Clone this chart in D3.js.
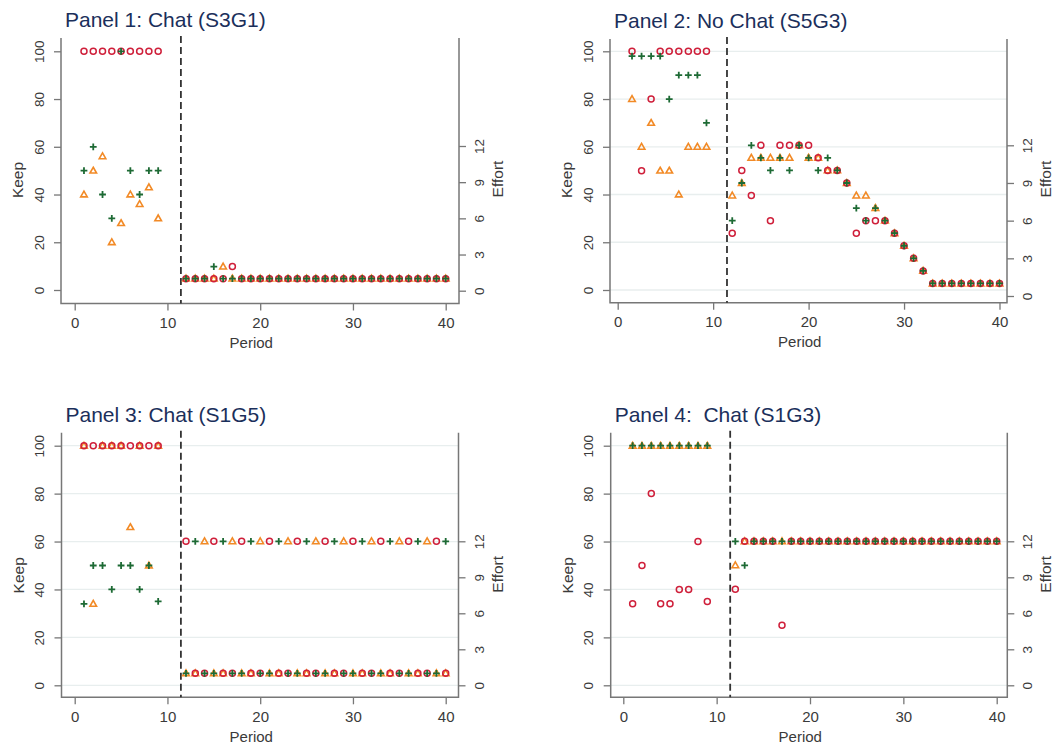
<!DOCTYPE html>
<html>
<head>
<meta charset="utf-8">
<script src="https://cdn.jsdelivr.net/npm/d3@7"></script>
<style>
  body { margin: 0; background: #fff; }
  svg { display: block; }
  text { font-family: "Liberation Sans", Arial, sans-serif; }
</style>
</head>
<body>
<svg id="chart" width="1058" height="752"></svg>
<script>
// periods
const periodsEarly = [1, 2, 3, 4, 5, 6, 7, 8, 9];
const periodsEarlyP2 = [1.5, 2.5, 3.5, 4.45, 5.4, 6.4, 7.4, 8.35, 9.3];
const periodsLate = [12, 13, 14, 15, 16, 17, 18, 19, 20, 21, 22, 23, 24, 25, 26, 27, 28, 29, 30, 31, 32, 33, 34, 35, 36, 37, 38, 39, 40];
const breakPeriod = 11.45;

const titles = ["Panel 1: Chat (S3G1)", "Panel 2: No Chat (S5G3)", "Panel 3: Chat (S1G5)", "Panel 4:  Chat (S1G3)"];
const keepTicks = [0, 20, 40, 60, 80, 100];
const effortTicks = [0, 3, 6, 9, 12];
const periodTicks = [0, 10, 20, 30, 40];

// panel 1
const p1KeepCircle = [100, 100, 100, 100, 100, 100, 100, 100, 100];
const p1KeepPlus = [50, 60, 40, 30, 100, 50, 40, 50, 50];
const p1KeepTri = [40, 50, 56, 20, 28, 40, 36, 43, 30];
const p1EffCircle = [1, 1, 1, 1, 1, 2, 1, 1, 1, 1, 1, 1, 1, 1, 1, 1, 1, 1, 1, 1, 1, 1, 1, 1, 1, 1, 1, 1, 1];
const p1EffPlus = [1, 1, 1, 2, 1, 1, 1, 1, 1, 1, 1, 1, 1, 1, 1, 1, 1, 1, 1, 1, 1, 1, 1, 1, 1, 1, 1, 1, 1];
const p1EffTri = [1, 1, 1, 1, 2, 1, 1, 1, 1, 1, 1, 1, 1, 1, 1, 1, 1, 1, 1, 1, 1, 1, 1, 1, 1, 1, 1, 1, 1];

// panel 2
const p2KeepCircle = [100, 50, 80, 100, 100, 100, 100, 100, 100];
const p2KeepPlus = [98, 98, 98, 98, 80, 90, 90, 90, 70];
const p2KeepTri = [80, 60, 70, 50, 50, 40, 60, 60, 60];
const p2EffCircle = [5, 10, 8, 12, 6, 12, 12, 12, 12, 11, 10, 10, 9, 5, 6, 6, 6, 5, 4, 3, 2, 1, 1, 1, 1, 1, 1, 1, 1];
const p2EffPlus = [6, 9, 12, 11, 10, 11, 10, 12, 11, 10, 11, 10, 9, 7, 6, 7, 6, 5, 4, 3, 2, 1, 1, 1, 1, 1, 1, 1, 1];
const p2EffTri = [8, 9, 11, 11, 11, 11, 11, 12, 11, 11, 10, 10, 9, 8, 8, 7, 6, 5, 4, 3, 2, 1, 1, 1, 1, 1, 1, 1, 1];

// panel 3
const p3KeepCircle = [100, 100, 100, 100, 100, 100, 100, 100, 100];
const p3KeepPlus = [34, 50, 50, 40, 50, 50, 40, 50, 35];
const p3KeepTri = [100, 34, 100, 100, 100, 66, 100, 50, 100];
const p3EffCircle = [12, 1, 1, 12, 1, 1, 12, 1, 1, 12, 1, 1, 12, 1, 1, 12, 1, 1, 12, 1, 1, 12, 1, 1, 12, 1, 1, 12, 1];
const p3EffPlus = [1, 12, 1, 1, 12, 1, 1, 12, 1, 1, 12, 1, 1, 12, 1, 1, 12, 1, 1, 12, 1, 1, 12, 1, 1, 12, 1, 1, 12];
const p3EffTri = [1, 1, 12, 1, 1, 12, 1, 1, 12, 1, 1, 12, 1, 1, 12, 1, 1, 12, 1, 1, 12, 1, 1, 12, 1, 1, 12, 1, 1];

// panel 4
const p4KeepCircle = [34, 50, 80, 34, 34, 40, 40, 60, 35];
const p4KeepPlus = [100, 100, 100, 100, 100, 100, 100, 100, 100];
const p4KeepTri = [100, 100, 100, 100, 100, 100, 100, 100, 100];
const p4EffCircle = [8, 12, 12, 12, 12, 5, 12, 12, 12, 12, 12, 12, 12, 12, 12, 12, 12, 12, 12, 12, 12, 12, 12, 12, 12, 12, 12, 12, 12];
const p4EffPlus = [12, 10, 12, 12, 12, 12, 12, 12, 12, 12, 12, 12, 12, 12, 12, 12, 12, 12, 12, 12, 12, 12, 12, 12, 12, 12, 12, 12, 12];
const p4EffTri = [10, 12, 12, 12, 12, 12, 12, 12, 12, 12, 12, 12, 12, 12, 12, 12, 12, 12, 12, 12, 12, 12, 12, 12, 12, 12, 12, 12, 12];

const panels = [
  { early: periodsEarly, keep: [p1KeepTri, p1KeepCircle, p1KeepPlus], eff: [p1EffTri, p1EffCircle, p1EffPlus] },
  { early: periodsEarlyP2, keep: [p2KeepTri, p2KeepCircle, p2KeepPlus], eff: [p2EffTri, p2EffCircle, p2EffPlus] },
  { early: periodsEarly, keep: [p3KeepTri, p3KeepCircle, p3KeepPlus], eff: [p3EffTri, p3EffCircle, p3EffPlus] },
  { early: periodsEarly, keep: [p4KeepTri, p4KeepCircle, p4KeepPlus], eff: [p4EffTri, p4EffCircle, p4EffPlus] }
];

// pixel frames for each panel
const frames = [
  { left: 61, right: 459, top: 38, bottom: 303.5, x0: 74.7, x40: 445.7, k0: 290, k100: 51.3, e0: 290.7, e12: 146, grid: false },
  { left: 610, right: 1007, top: 39, bottom: 302.7, x0: 617.7, x40: 999.5, k0: 290, k100: 51.3, e0: 296, e12: 145.3, grid: true },
  { left: 61.5, right: 458.5, top: 432.7, bottom: 697.3, x0: 74.7, x40: 445.7, k0: 685.3, k100: 445.7, e0: 685.3, e12: 541.3, grid: true },
  { left: 610.7, right: 1007.3, top: 432.7, bottom: 697.3, x0: 623.3, x40: 996.7, k0: 685.3, k100: 445.7, e0: 685.3, e12: 541.3, grid: true }
];

const markerStyle = [
  { path: "M0,-3.4L3.3,2.4H-3.3Z", color: "#f28a26", width: 1.6 },   // triangle
  { path: null, color: "#cf1f3a", width: 1.5 },                      // circle
  { path: "M-3.4,0H3.4M0,-3.4V3.4", color: "#1d6a34", width: 1.8 }  // plus
];

const axisColor = "#777";
const labelColor = "#3a3a3a";
const svg = d3.select("#chart");

panels.forEach(function(p, i) {
  const f = frames[i];
  const g = svg.append("g");

  const x = d3.scaleLinear().domain([0, 40]).range([f.x0, f.x40]);
  const yKeep = d3.scaleLinear().domain([0, 100]).range([f.k0, f.k100]);
  const yEff = d3.scaleLinear().domain([0, 12]).range([f.e0, f.e12]);

  // title
  g.append("text")
    .attr("x", f.left + 4).attr("y", f.top - 11)
    .style("font-size", "21px").style("fill", "#1b2f5b")
    .style("white-space", "pre")
    .text(titles[i]);

  // gridlines
  if (f.grid) {
    g.selectAll(".grid")
      .data(keepTicks)
      .join("line")
      .attr("x1", f.left).attr("x2", f.right)
      .attr("y1", d => yKeep(d)).attr("y2", d => yKeep(d))
      .style("stroke", "#e8eeee").style("stroke-width", 1.3);
  }

  // frame lines
  g.append("path")
    .attr("d", `M${f.left},${f.top}V${f.bottom}H${f.right}V${f.top}`)
    .style("fill", "none").style("stroke", axisColor).style("stroke-width", 1.5);

  // left axis
  const left = g.append("g")
    .attr("transform", `translate(${f.left},0)`)
    .call(d3.axisLeft(yKeep).tickValues(keepTicks).tickSize(7).tickPadding(0));
  left.select(".domain").remove();
  left.selectAll("line").style("stroke", axisColor).style("stroke-width", 1.3);
  left.selectAll("text")
    .attr("x", 0).attr("dy", null).attr("y", 0)
    .attr("text-anchor", "middle")
    .attr("transform", "translate(-17.5,0) rotate(-90)")
    .style("font-size", "13.5px").style("fill", labelColor).style("font-family", "Liberation Sans, Arial, sans-serif");

  // right axis
  const right = g.append("g")
    .attr("transform", `translate(${f.right},0)`)
    .call(d3.axisRight(yEff).tickValues(effortTicks).tickSize(7).tickPadding(0));
  right.select(".domain").remove();
  right.selectAll("line").style("stroke", axisColor).style("stroke-width", 1.3);
  right.selectAll("text")
    .attr("x", 0).attr("dy", null).attr("y", 0)
    .attr("text-anchor", "middle")
    .attr("transform", "translate(25,0) rotate(-90)")
    .style("font-size", "13.5px").style("fill", labelColor).style("font-family", "Liberation Sans, Arial, sans-serif");

  // bottom axis
  const bottom = g.append("g")
    .attr("transform", `translate(0,${f.bottom})`)
    .call(d3.axisBottom(x).tickValues(periodTicks).tickSize(7).tickPadding(0));
  bottom.select(".domain").remove();
  bottom.selectAll("line").style("stroke", axisColor).style("stroke-width", 1.3);
  bottom.selectAll("text")
    .attr("y", 24.5).attr("dy", null)
    .style("font-size", "15px").style("fill", labelColor).style("font-family", "Liberation Sans, Arial, sans-serif");

  // axis titles
  g.append("text")
    .attr("transform", `translate(${f.left - 38},${f.k0 - 110}) rotate(-90)`)
    .attr("text-anchor", "middle")
    .style("font-size", "15.5px").style("fill", labelColor)
    .text("Keep");
  g.append("text")
    .attr("transform", `translate(${f.right + 44},${f.k0 - 111}) rotate(-90)`)
    .attr("text-anchor", "middle")
    .style("font-size", "15.5px").style("fill", labelColor)
    .text("Effort");
  g.append("text")
    .attr("x", f.left + (f.right - f.left) * 0.478).attr("y", f.bottom + 44.5)
    .attr("text-anchor", "middle")
    .style("font-size", "15px").style("fill", labelColor)
    .text("Period");

  // dashed break line
  g.append("line")
    .attr("x1", x(breakPeriod)).attr("x2", x(breakPeriod))
    .attr("y1", f.top - 2).attr("y2", f.bottom)
    .style("stroke", "#333").style("stroke-width", 1.8)
    .style("stroke-dasharray", "7,4");

  // markers
  markerStyle.forEach(function(m, s) {
    const pts = p.early.map((px, j) => ({ cx: x(px), cy: yKeep(p.keep[s][j]) }))
      .concat(periodsLate.map((px, j) => ({ cx: x(px), cy: yEff(p.eff[s][j]) })));
    if (m.path === null) {
      g.selectAll(".c" + s)
        .data(pts)
        .join("circle")
        .attr("cx", d => d.cx).attr("cy", d => d.cy).attr("r", 3)
        .style("fill", "none").style("stroke", m.color).style("stroke-width", m.width);
    } else {
      g.selectAll(".m" + s)
        .data(pts)
        .join("path")
        .attr("d", m.path)
        .attr("transform", d => `translate(${d.cx},${d.cy})`)
        .style("fill", "none").style("stroke", m.color).style("stroke-width", m.width);
    }
  });
});
</script>
</body>
</html>
